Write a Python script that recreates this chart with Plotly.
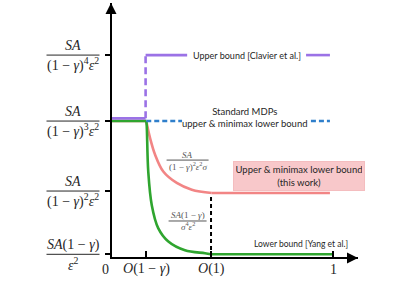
import plotly.graph_objects as go

# ---------------- data (schematic values) ----------------
sigma_tick_vals = [0.156, 0.448, 1.0]
sigma_tick_text = ["<i>O</i>(1 − <i>γ</i>)", "<i>O</i>(1)", "1"]

level_vals = [0.04, 0.98, 2.02, 3.0]
level_num = ["<i>SA</i>(1 − <i>γ</i>)", "<i>SA</i>", "<i>SA</i>", "<i>SA</i>"]
level_den = ["<i>ε</i><sup>2</sup>",
             "(1 − <i>γ</i>)<sup>2</sup><i>ε</i><sup>2</sup>",
             "(1 − <i>γ</i>)<sup>3</sup><i>ε</i><sup>2</sup>",
             "(1 − <i>γ</i>)<sup>4</sup><i>ε</i><sup>2</sup>"]

# this work: upper & minimax lower bound
this_x = [0.0, 0.155, 0.172, 0.195, 0.232, 0.293, 0.361, 0.451, 0.986]
this_y = [2.02, 2.02, 1.77, 1.52, 1.27, 1.10, 1.00, 0.95, 0.95]

# lower bound [Yang et al.]
yang_x = [0.0, 0.155, 0.157, 0.164, 0.18, 0.209, 0.255, 0.33, 0.421, 0.448, 1.0]
yang_y = [2.02, 2.02, 1.96, 1.27, 0.77, 0.43, 0.23, 0.10, 0.055, 0.04, 0.04]

# upper bound [Clavier et al.]
clav_flat_x = [0.0, 0.152]
clav_flat_y = [2.06, 2.06]
clav_jump_x = [0.152, 0.152]
clav_jump_y = [2.06, 3.0]
clav_top_x = [0.152, 0.34, None, 0.878, 0.986]
clav_top_y = [3.0, 3.0, None, 3.0, 3.0]

# standard MDPs
std_x = [0.155, 0.317, None, 0.90, 0.986]
std_y = [2.02, 2.02, None, 2.02, 2.02]

# O(1) marker
o1_x = [0.448, 0.448]
o1_y = [0.0, 0.90]

# ---------------- styles ----------------
GREEN = "#2FA52F"
PINK = "#F28585"
PURPLE = "#9B72E6"
BLUE = "#2F7FCB"
SERIF = "Liberation Serif"
SANS = "Lato"
TXT = "#262626"

W, H = 399, 285
ML, MR, MT, MB = 112, 41, 3, 28
XMAX, YMAX = 1.113, 3.774
PW = W - ML - MR

fig = go.Figure()

def line(x, y, color, width=2.6, dash="solid", shape="linear"):
    fig.add_trace(go.Scatter(x=x, y=y, mode="lines",
                             line=dict(color=color, width=width, dash=dash, shape=shape),
                             hoverinfo="skip", showlegend=False))

# pink (this work)
line(this_x[:2], this_y[:2], PINK)
line(this_x[1:-1], this_y[1:-1], PINK, shape="spline")
line(this_x[-2:], this_y[-2:], PINK)
# green (Yang)
line(yang_x[:2], yang_y[:2], GREEN)
line(yang_x[1:-1], yang_y[1:-1], GREEN, shape="spline")
line(yang_x[-2:], yang_y[-2:], GREEN)
# purple (Clavier)
line(clav_flat_x, clav_flat_y, PURPLE)
line(clav_jump_x, clav_jump_y, PURPLE, dash="7px,4px")
line(clav_top_x, clav_top_y, PURPLE)
# blue dashed (standard)
line(std_x, std_y, BLUE, dash="5px,3px")
# black dashed O(1)
line(o1_x, o1_y, "black", width=2, dash="4px,3px")

# ---------------- axes ----------------
fig.update_layout(
    width=W, height=H,
    margin=dict(l=ML, r=MR, t=MT, b=MB, autoexpand=False),
    plot_bgcolor="white", paper_bgcolor="white",
    showlegend=False,
    xaxis=dict(range=[0, XMAX], showgrid=False, zeroline=False, automargin=False,
               showline=True, linecolor="black", linewidth=2,
               ticks="inside", ticklen=6, tickwidth=2, tickcolor="black",
               tickvals=sigma_tick_vals, showticklabels=False),
    yaxis=dict(range=[0, YMAX], showgrid=False, zeroline=False, automargin=False,
               showline=True, linecolor="black", linewidth=2,
               ticks="outside", ticklen=5, tickwidth=2, tickcolor="black",
               tickvals=level_vals, showticklabels=False),
)

def add_frac(xdata, ydata, num, den, size, gap, half_w, xshift=0, color=TXT):
    """Stacked fraction: numerator above, denominator below, bar between."""
    for txt, sh in ((num, gap), (den, -gap)):
        fig.add_annotation(x=xdata, y=ydata, xref="x", yref="y", xanchor="center",
                           yanchor="middle", xshift=xshift, yshift=sh, text=txt,
                           showarrow=False, font=dict(family=SERIF, size=size, color=color))
    cx = ML + xdata / XMAX * PW + xshift
    fig.add_shape(type="line", xref="paper", yref="paper",
                  x0=(cx - half_w - ML) / PW, x1=(cx + half_w - ML) / PW,
                  y0=ydata / YMAX, y1=ydata / YMAX,
                  line=dict(color=color, width=1))

# y tick labels as stacked fractions
for v, n, d in zip(level_vals, level_num, level_den):
    add_frac(0, v, n, d, 14, 9.5, 26.5, xshift=-39)

# x tick labels
for v, t in zip(sigma_tick_vals, sigma_tick_text):
    fig.add_annotation(x=v, y=0, xref="x", yref="y", yanchor="middle", yshift=-12,
                       text=t, showarrow=False,
                       font=dict(family=SERIF, size=14, color=TXT))

# arrows on axes
fig.add_annotation(x=0, y=YMAX, ax=0, ay=16, xref="x", yref="y", text="",
                   showarrow=True, arrowhead=2, arrowsize=1.1, arrowwidth=2,
                   arrowcolor="black", standoff=0, xshift=-1)
fig.add_annotation(x=XMAX, y=0, ax=-16, ay=0, xref="x", yref="y", text="",
                   showarrow=True, arrowhead=2, arrowsize=1.1, arrowwidth=2,
                   arrowcolor="black", standoff=0, yshift=-1)

# axis names / origin
fig.add_annotation(x=-0.03, y=3.67, xref="x", yref="y", xanchor="right",
                   text="Sample complexity", showarrow=False,
                   font=dict(family=SANS, size=10.5, color=TXT))
fig.add_annotation(x=0, y=0, xref="x", yref="y", xshift=-7, yshift=-12,
                   yanchor="middle", text="0", showarrow=False,
                   font=dict(family=SERIF, size=14, color=TXT))
fig.add_annotation(x=1.167, y=-0.07, xref="x", yref="y",
                   text="<i>σ</i>", showarrow=False,
                   font=dict(family=SERIF, size=22, color=TXT))

# text labels
fig.add_annotation(x=0.61, y=3.0, xref="x", yref="y", text="Upper bound [Clavier et al.]",
                   showarrow=False, font=dict(family=SANS, size=9, color=TXT))
fig.add_annotation(x=0.603, y=2.07, xref="x", yref="y",
                   text="Standard MDPs<br>upper &amp; minimax lower bound",
                   showarrow=False, align="center",
                   font=dict(family=SANS, size=9.5, color=TXT))
fig.add_annotation(x=0.846, y=1.20, xref="x", yref="y",
                   text="Upper &amp; minimax lower bound<br>(this work)",
                   showarrow=False, align="center", width=126, height=24,
                   bgcolor="#F8C8CA", bordercolor="#F4BDBF", borderwidth=1, borderpad=2,
                   font=dict(family=SANS, size=9.5, color=TXT))
fig.add_annotation(x=0.853, y=0.20, xref="x", yref="y", text="Lower bound [Yang et al.]",
                   showarrow=False, font=dict(family=SANS, size=8.5, color=TXT))

# curve formulas
add_frac(0.342, 1.44, "<i>SA</i>",
         "(1 − <i>γ</i>)<sup>2</sup><i>ε</i><sup>2</sup><i>σ</i>", 9, 5.5, 21, color="#555")
add_frac(0.342, 0.535, "<i>SA</i>(1 − <i>γ</i>)",
         "<i>σ</i><sup>4</sup><i>ε</i><sup>2</sup>", 9, 5.5, 19, color="#555")

fig.write_html("out.html", config={"displayModeBar": False},
               post_script="document.body.style.margin='0px';")
